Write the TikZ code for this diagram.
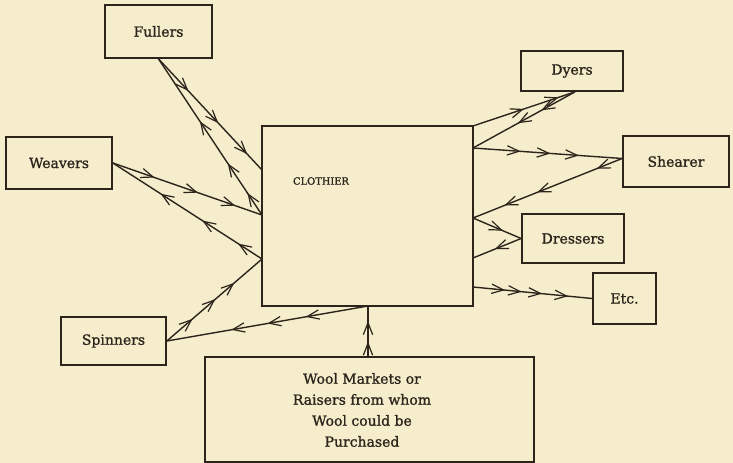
\documentclass[tikz,border=0pt]{standalone}
\usepackage{fontspec}
\setmainfont{DejaVu Serif}[FakeBold=1.2]
\usetikzlibrary{arrows.meta,decorations.markings,calc}
\definecolor{paper}{RGB}{245,237,203}
\definecolor{ink}{RGB}{45,37,28}
\tikzset{
  hd/.tip={Straight Barb[length=9pt,width=7pt,line width=0.9pt]},
  box/.style={draw=ink,line width=1.3pt,fill=paper,inner sep=0pt,align=center,font=\fontsize{10.5}{15.75}\selectfont,text=ink},
  conn/.style={draw=ink,line width=1.05pt},
  heads/.style={postaction={decorate,decoration={markings,mark=at position #1 with {\arrow[ink]{hd}}}}}
}
\begin{document}
\begin{tikzpicture}[x=0.75pt,y=-0.75pt]
\fill[paper] (0,0) rectangle (733,463);
\useasboundingbox (0,0) rectangle (733,463);
% nodes
\node[box,minimum width=158.25pt,minimum height=135pt] (cl) at (367.5,216) {};
\node[text=ink,font=\fontsize{7.4}{10}\selectfont] (cltext) at (321,181) {CLOTHIER};
\node[box,minimum width=80.25pt,minimum height=39.75pt] (fullers) at (158.5,31.5) {Fullers};
\node[box,minimum width=79.5pt,minimum height=39pt] (weavers) at (59,163) {Weavers};
\node[box,minimum width=78.75pt,minimum height=36pt] (spinners) at (113.5,341) {Spinners};
\node[box,minimum width=76.5pt,minimum height=30pt] (dyers) at (572,71) {Dyers};
\node[box,minimum width=79.5pt,minimum height=38.25pt] (shearer) at (676,161.5) {Shearer};
\node[box,minimum width=76.5pt,minimum height=36.75pt] (dressers) at (573,238.5) {Dressers};
\node[box,minimum width=47.25pt,minimum height=38.25pt] (etc) at (624.5,298.5) {Etc.};
\node[box,minimum width=246.75pt,minimum height=78.75pt] (wool) at (369.5,409.5) {};
\node[text=ink,align=center,font=\fontsize{10.5}{15.75}\selectfont] (wooltext) at (362,410) {Wool Markets or\\Raisers from whom\\Wool could be\\Purchased};
% attachment points on the clothier box
\coordinate (cl1) at (262,170);
\coordinate (cl2) at (262,215);
\coordinate (cl3) at (262,259);
\coordinate (cb) at (368,306);
\coordinate (cr0) at (473,126);
\coordinate (cr1) at (473,148);
\coordinate (cr2) at (473,218);
\coordinate (cr3) at (473,258);
\coordinate (cr4) at (473,287);
\coordinate (dy) at ($(dyers.south)+(3,0)$);
\coordinate (sh) at ($(shearer.west)+(0,-3)$);
% connectors
\draw[conn,heads=0.29,heads=0.58,heads=0.86] (fullers.south) -- (cl1);
\draw[conn,heads=0.14,heads=0.33,heads=0.6] (cl2) -- (fullers.south);
\draw[conn,heads=0.28,heads=0.57,heads=0.82] (weavers.east) -- (cl2);
\draw[conn,heads=0.16,heads=0.4,heads=0.68] (cl3) -- (weavers.east);
\draw[conn,heads=0.27,heads=0.51,heads=0.71] (spinners.east) -- (cl3);
\draw[conn,heads=0.31,heads=0.5,heads=0.68] (cb) -- (spinners.east);
\draw[conn,heads=0.29,heads=0.7] (wool.north -| cb) -- (cb);
\draw[conn,heads=0.5,heads=0.84] (cr0) -- (dy);
\draw[conn,heads=0.33,heads=0.56] (dy) -- (cr1);
\draw[conn,heads=0.32,heads=0.52,heads=0.71] (cr1) -- (sh);
\draw[conn,heads=0.17,heads=0.57,heads=0.79] (sh) -- (cr2);
\draw[conn,heads=0.62] (cr2) -- (dressers.west);
\draw[conn,heads=0.55] (dressers.west) -- (cr3);
\draw[conn,heads=0.27,heads=0.41,heads=0.58,heads=0.8] (cr4) -- (etc.west);
\end{tikzpicture}
\end{document}
